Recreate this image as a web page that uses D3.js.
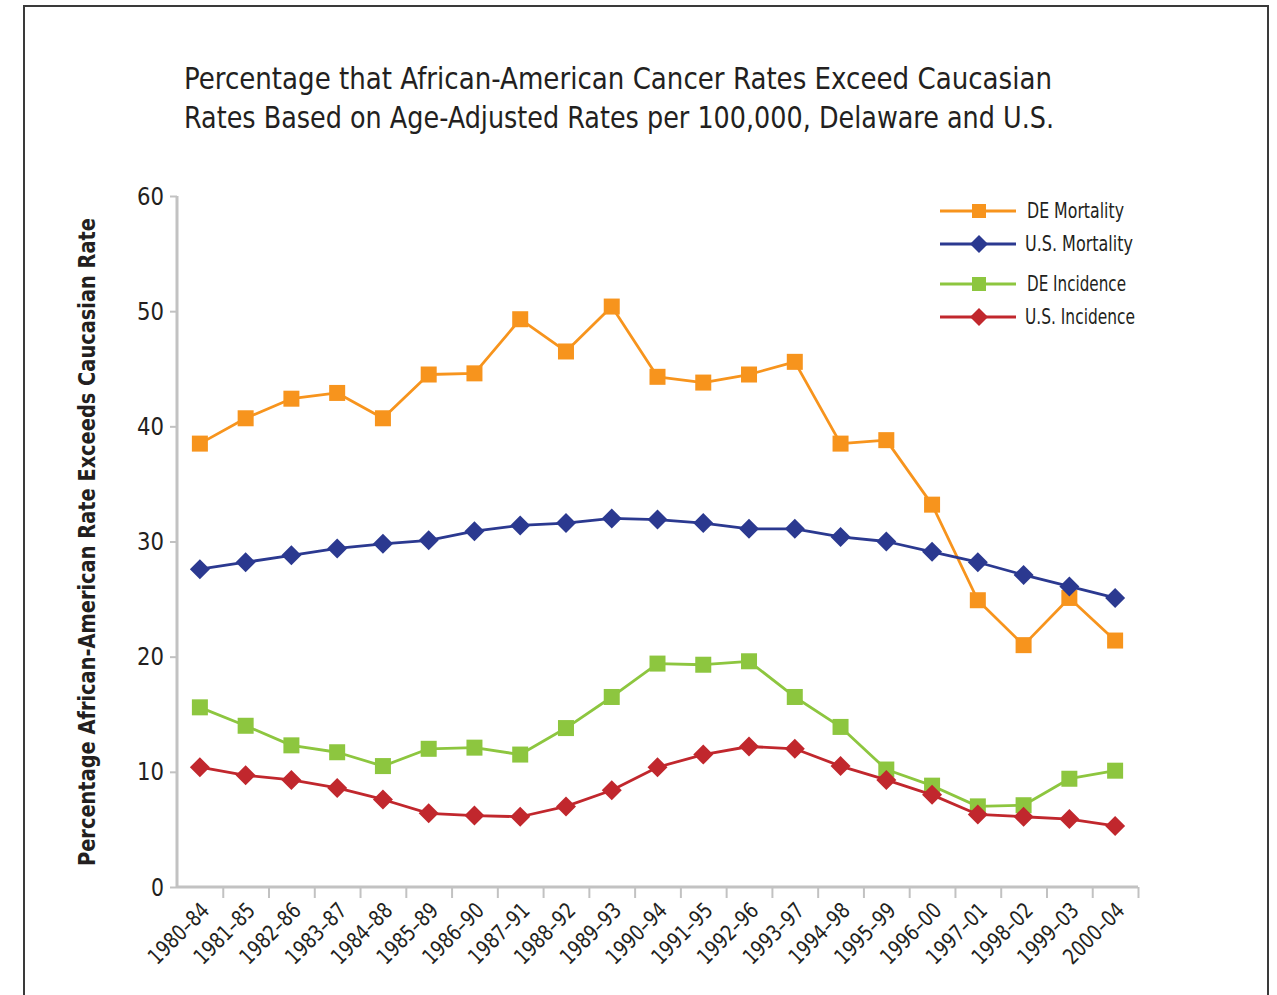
<!DOCTYPE html>
<html>
<head>
<meta charset="utf-8">
<script src="https://cdn.jsdelivr.net/npm/d3@7/dist/d3.min.js"></script>
<style>
  html, body { margin: 0; padding: 0; background: #fff; }
  svg { display: block; }
  text { fill: #231f20; font-family: "DejaVu Sans Condensed", "DejaVu Sans", sans-serif; font-stretch: condensed; }
</style>
</head>
<body>
<svg id="chart" width="1277" height="995"></svg>
<script>
// Five-year periods
const periods = ["1980–84","1981–85","1982–86","1983–87","1984–88","1985–89","1986–90",
  "1987–91","1988–92","1989–93","1990–94","1991–95","1992–96","1993–97","1994–98",
  "1995–99","1996–00","1997–01","1998–02","1999–03","2000–04"];

// Percent by which African-American rates exceed Caucasian rates
const deMortality = [38.5,40.7,42.4,42.9,40.7,44.5,44.6,49.3,46.5,50.4,44.3,43.8,44.5,45.6,38.5,38.8,33.2,24.9,21.0,25.1,21.4];
const usMortality = [27.6,28.2,28.8,29.4,29.8,30.1,30.9,31.4,31.6,32.0,31.9,31.6,31.1,31.1,30.4,30.0,29.1,28.2,27.1,26.1,25.1];
const deIncidence = [15.6,14.0,12.3,11.7,10.5,12.0,12.1,11.5,13.8,16.5,19.4,19.3,19.6,16.5,13.9,10.2,8.8,7.0,7.1,9.4,10.1];
const usIncidence = [10.4,9.7,9.3,8.6,7.6,6.4,6.2,6.1,7.0,8.4,10.4,11.5,12.2,12.0,10.5,9.3,8.0,6.3,6.1,5.9,5.3];

const yTicks = [0,10,20,30,40,50,60];

const seriesNames = ["DE Mortality","U.S. Mortality","DE Incidence","U.S. Incidence"];
const seriesColors = ["#f7941d","#2b3990","#8dc63f","#c1272d"];
const seriesShapes = ["square","diamond","square","diamond"];
const seriesValues = [deMortality, usMortality, deIncidence, usIncidence];

const svg = d3.select("#chart");

// Outer frame (open at the bottom)
svg.append("path")
  .attr("d", "M24,995 L24,6 L1268,6 L1268,995")
  .attr("fill", "none").attr("stroke", "#3a3a3a").attr("stroke-width", 2);

// Title
const titleLines = [
  "Percentage that African-American Cancer Rates Exceed Caucasian",
  "Rates Based on Age-Adjusted Rates per 100,000, Delaware and U.S."
];
const titleWidths = [868, 870];
svg.append("g").selectAll("text").data(titleLines).join("text")
  .attr("x", 184).attr("y", (d, i) => 89 + i * 39)
  .attr("font-size", 31)
  .attr("textLength", (d, i) => titleWidths[i])
  .attr("lengthAdjust", "spacingAndGlyphs")
  .text(d => d);

// Plot area bounds
const plotLeft = 177, plotRight = 1138, plotTop = 196, plotBottom = 887;
const x = d3.scaleBand().domain(periods).range([plotLeft, plotRight]).padding(0);
const xIdx = d3.scaleLinear().domain([0, periods.length]).range([plotLeft, plotRight]);
const y = d3.scaleLinear().domain([0, 60]).range([plotBottom, plotTop]);
const cx = d => x(d) + x.bandwidth() / 2;

// Y axis
const yAxis = svg.append("g").attr("transform", `translate(${plotLeft},0)`)
  .call(d3.axisLeft(y).tickValues(yTicks).tickSize(7).tickPadding(6));
yAxis.select(".domain").attr("stroke", "#c2c2c2").attr("stroke-width", 3)
  .attr("d", `M0,${plotTop}V${plotBottom}`);
yAxis.selectAll(".tick line").attr("stroke", "#c2c2c2").attr("stroke-width", 2);
yAxis.selectAll(".tick text").attr("font-size", 25).attr("fill", "#231f20")
  .attr("font-family", null)
  .attr("textLength", d => d === 0 ? 13 : 27).attr("lengthAdjust", "spacingAndGlyphs");

// X axis: ticks on band boundaries
const xAxis = svg.append("g").attr("transform", `translate(0,${plotBottom})`)
  .call(d3.axisBottom(xIdx).tickValues(d3.range(1, periods.length + 1)).tickSize(11).tickFormat(""));
xAxis.select(".domain").attr("stroke", "#c2c2c2").attr("stroke-width", 3)
  .attr("d", `M${plotLeft},0H${plotRight}`);
xAxis.selectAll(".tick line").attr("stroke", "#c2c2c2").attr("stroke-width", 2);

// Rotated period labels
svg.append("g").selectAll("text").data(periods).join("text")
  .attr("transform", d => `translate(${cx(d)},${plotBottom + 14}) rotate(-45)`)
  .attr("text-anchor", "end")
  .attr("dy", "0.7em")
  .attr("font-size", 22)
  .attr("textLength", 76).attr("lengthAdjust", "spacingAndGlyphs")
  .text(d => d);

// Y axis title
svg.append("text")
  .attr("transform", `translate(95,542) rotate(-90)`)
  .attr("text-anchor", "middle")
  .attr("font-size", 23).attr("font-weight", "bold")
  .attr("textLength", 648).attr("lengthAdjust", "spacingAndGlyphs")
  .text("Percentage African-American Rate Exceeds Caucasian Rate");

// Marker drawing helper
function marker(sel, shape, color) {
  if (shape === "square") {
    sel.append("rect").attr("x", -8).attr("y", -8).attr("width", 16).attr("height", 16).attr("fill", color);
  } else {
    sel.append("path").attr("d", "M0,-10 L10,0 L0,10 L-10,0 Z").attr("fill", color);
  }
}

// Lines and markers
const line = d3.line().x((d, i) => cx(periods[i])).y(d => y(d));
seriesValues.forEach((vals, s) => {
  const g = svg.append("g").attr("class", "series");
  g.append("path").datum(vals)
    .attr("d", line).attr("fill", "none")
    .attr("stroke", seriesColors[s]).attr("stroke-width", 2.8)
    .attr("stroke-linejoin", "round");
  g.selectAll("g.pt").data(vals).join("g").attr("class", "pt")
    .attr("transform", (d, i) => `translate(${cx(periods[i])},${y(d)})`)
    .each(function() { marker(d3.select(this), seriesShapes[s], seriesColors[s]); });
});

// Legend
const legendY = [211, 244, 284, 317];
const legendWidths = [97, 108, 99, 110];
const legend = svg.append("g");
seriesNames.forEach((name, i) => {
  const row = legend.append("g").attr("transform", `translate(0,${legendY[i]})`);
  row.append("line").attr("x1", 940).attr("x2", 1016).attr("y1", 0).attr("y2", 0)
    .attr("stroke", seriesColors[i]).attr("stroke-width", 3);
  const m = row.append("g").attr("transform", "translate(979,0)");
  if (seriesShapes[i] === "square") {
    m.append("rect").attr("x", -7).attr("y", -7).attr("width", 14).attr("height", 14).attr("fill", seriesColors[i]);
  } else {
    m.append("path").attr("d", "M0,-9 L9,0 L0,9 L-9,0 Z").attr("fill", seriesColors[i]);
  }
  row.append("text").attr("x", seriesShapes[i] === "square" ? 1027 : 1025).attr("y", 0).attr("dy", "0.35em")
    .attr("font-size", 21)
    .attr("textLength", legendWidths[i]).attr("lengthAdjust", "spacingAndGlyphs")
    .text(name);
});
</script>
</body>
</html>
